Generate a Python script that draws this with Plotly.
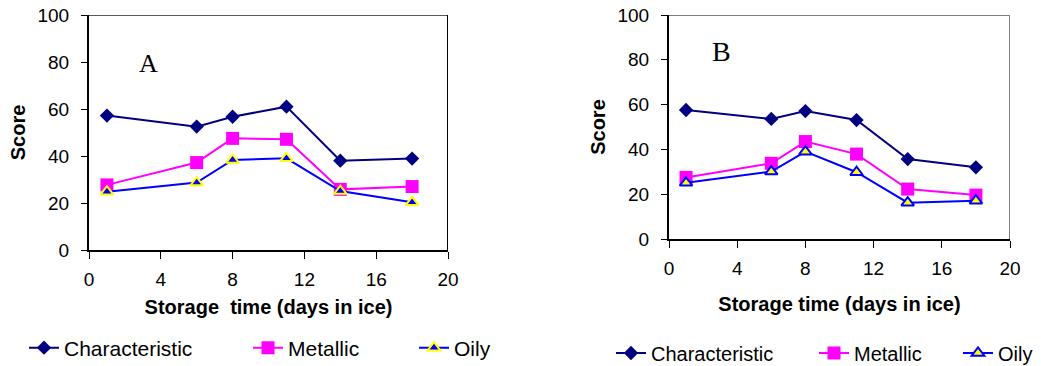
import plotly.graph_objects as go

# ---- data ----
days = [1, 6, 8, 11, 14, 18]

a_characteristic = [57.2, 52.5, 56.7, 61.0, 38.0, 38.9]
a_metallic = [27.7, 37.2, 47.5, 47.1, 25.8, 27.0]
a_oily = [24.8, 28.7, 38.3, 39.0, 25.1, 20.3]

b_characteristic = [57.6, 53.6, 57.1, 53.1, 35.7, 32.0]
b_metallic = [27.5, 33.8, 43.5, 37.9, 22.3, 19.6]
b_oily = [25.1, 30.1, 39.0, 29.8, 16.2, 17.1]

series_names = ["Characteristic", "Metallic", "Oily"]
x_ticks = [0, 4, 8, 12, 16, 20]
y_ticks = [0, 20, 40, 60, 80, 100]

W, H = 1041, 366
NAVY = "#000080"
MAGENTA = "#FF00FF"
BLUE = "#0000FF"
YELLOW = "#FFFF00"
FONT = "Liberation Sans, Arial, sans-serif"

fig = go.Figure()

# Panel A
fig.add_trace(go.Scatter(x=days, y=a_characteristic, name=series_names[0], mode="lines+markers",
                         line=dict(color=NAVY, width=2),
                         marker=dict(symbol="diamond", size=11, color=NAVY),
                         xaxis="x", yaxis="y", legend="legend"))
fig.add_trace(go.Scatter(x=days, y=a_metallic, name=series_names[1], mode="lines+markers",
                         line=dict(color=MAGENTA, width=2),
                         marker=dict(symbol="square", size=13, color=MAGENTA),
                         xaxis="x", yaxis="y", legend="legend2"))
fig.add_trace(go.Scatter(x=days, y=a_oily, name=series_names[2], mode="lines+markers",
                         line=dict(color=BLUE, width=2),
                         marker=dict(symbol="triangle-up", size=11, color=BLUE,
                                     line=dict(color=YELLOW, width=2)),
                         xaxis="x", yaxis="y", legend="legend3"))

# Panel B
fig.add_trace(go.Scatter(x=days, y=b_characteristic, name=series_names[0], mode="lines+markers",
                         line=dict(color=NAVY, width=2),
                         marker=dict(symbol="diamond", size=11, color=NAVY),
                         xaxis="x2", yaxis="y2", legend="legend4"))
fig.add_trace(go.Scatter(x=days, y=b_metallic, name=series_names[1], mode="lines+markers",
                         line=dict(color=MAGENTA, width=2),
                         marker=dict(symbol="square", size=13, color=MAGENTA),
                         xaxis="x2", yaxis="y2", legend="legend5"))
fig.add_trace(go.Scatter(x=days, y=b_oily, name=series_names[2], mode="lines+markers",
                         line=dict(color=BLUE, width=2),
                         marker=dict(symbol="triangle-up", size=11, color=YELLOW,
                                     line=dict(color=BLUE, width=2)),
                         xaxis="x2", yaxis="y2", legend="legend6"))

tickfont = dict(family=FONT, size=19, color="black")
titlefont = dict(family=FONT, size=20, color="black")


def xax(domain, anchor, title, standoff):
    return dict(domain=domain, anchor=anchor, range=[0, 20], tickvals=x_ticks,
                ticks="outside", ticklen=7, tickcolor="black", tickwidth=1,
                showline=True, linecolor="black", linewidth=2, automargin=False,
                showgrid=False, zeroline=False, tickfont=tickfont,
                ticklabelstandoff=4,
                title=dict(text=title, font=titlefont, standoff=standoff))


def yax(domain, anchor):
    return dict(domain=domain, anchor=anchor, range=[0, 100], tickvals=y_ticks,
                ticks="outside", ticklen=6, tickcolor="black", tickwidth=1,
                showline=True, linecolor="black", linewidth=2, automargin=False,
                showgrid=False, zeroline=False, tickfont=tickfont,
                ticklabelstandoff=8,
                title=dict(text="<b>Score</b>", font=titlefont, standoff=6))


legend_common = dict(orientation="h", yanchor="middle", xanchor="left",
                     xref="container", yref="container",
                     bgcolor="rgba(0,0,0,0)", borderwidth=0, itemwidth=30)
fontA = dict(family=FONT, size=21, color="black")
fontB = dict(family=FONT, size=20, color="black")

serif = dict(family="Liberation Serif, Times New Roman, serif", color="black")

fig.update_layout(
    template="none",
    width=W, height=H,
    margin=dict(l=0, r=0, t=0, b=0, pad=0, autoexpand=False),
    paper_bgcolor="white", plot_bgcolor="white",
    showlegend=True,
    xaxis=xax([89 / W, 448 / W], "y", "<b>Storage  time (days in ice)</b>", 11),
    yaxis=yax([1 - 250 / H, 1 - 15 / H], "x"),
    xaxis2=xax([669 / W, 1010 / W], "y2", "<b>Storage time (days in ice)</b>", 19),
    yaxis2=yax([1 - 239 / H, 1 - 15 / H], "x2"),
    legend=dict(**legend_common, x=(65 - 41) / W, y=1 - 348 / H, font=fontA),
    legend2=dict(**legend_common, x=(289 - 41) / W, y=1 - 348 / H, font=fontA),
    legend3=dict(**legend_common, x=(455 - 41) / W, y=1 - 348 / H, font=fontA),
    legend4=dict(**legend_common, x=(652 - 41) / W, y=1 - 353 / H, font=fontB),
    legend5=dict(**legend_common, x=(855 - 41) / W, y=1 - 353 / H, font=fontB),
    legend6=dict(**legend_common, x=(999 - 41) / W, y=1 - 353 / H, font=fontB),
    shapes=[
        # panel A frame (top & right)
        dict(type="line", xref="x", yref="y", x0=0, x1=20, y0=100, y1=100,
             line=dict(color="#222222", width=1.5)),
        dict(type="line", xref="x", yref="y", x0=20, x1=20, y0=0, y1=100,
             line=dict(color="black", width=2)),
        # panel B frame (top & right)
        dict(type="line", xref="x2", yref="y2", x0=0, x1=20, y0=100, y1=100,
             line=dict(color="#808080", width=2)),
        dict(type="line", xref="x2", yref="y2", x0=20, x1=20, y0=0, y1=100,
             line=dict(color="#808080", width=2)),
    ],
    annotations=[
        dict(text="A", xref="paper", yref="paper", x=148 / W, y=1 - 64 / H,
             xanchor="center", yanchor="middle", showarrow=False,
             font=dict(**serif, size=26)),
        dict(text="B", xref="paper", yref="paper", x=721 / W, y=1 - 52 / H,
             xanchor="center", yanchor="middle", showarrow=False,
             font=dict(**serif, size=28)),
    ],
)

fig.write_html("out.html", config={"displayModeBar": False},
               post_script="document.body.style.margin='0';")
